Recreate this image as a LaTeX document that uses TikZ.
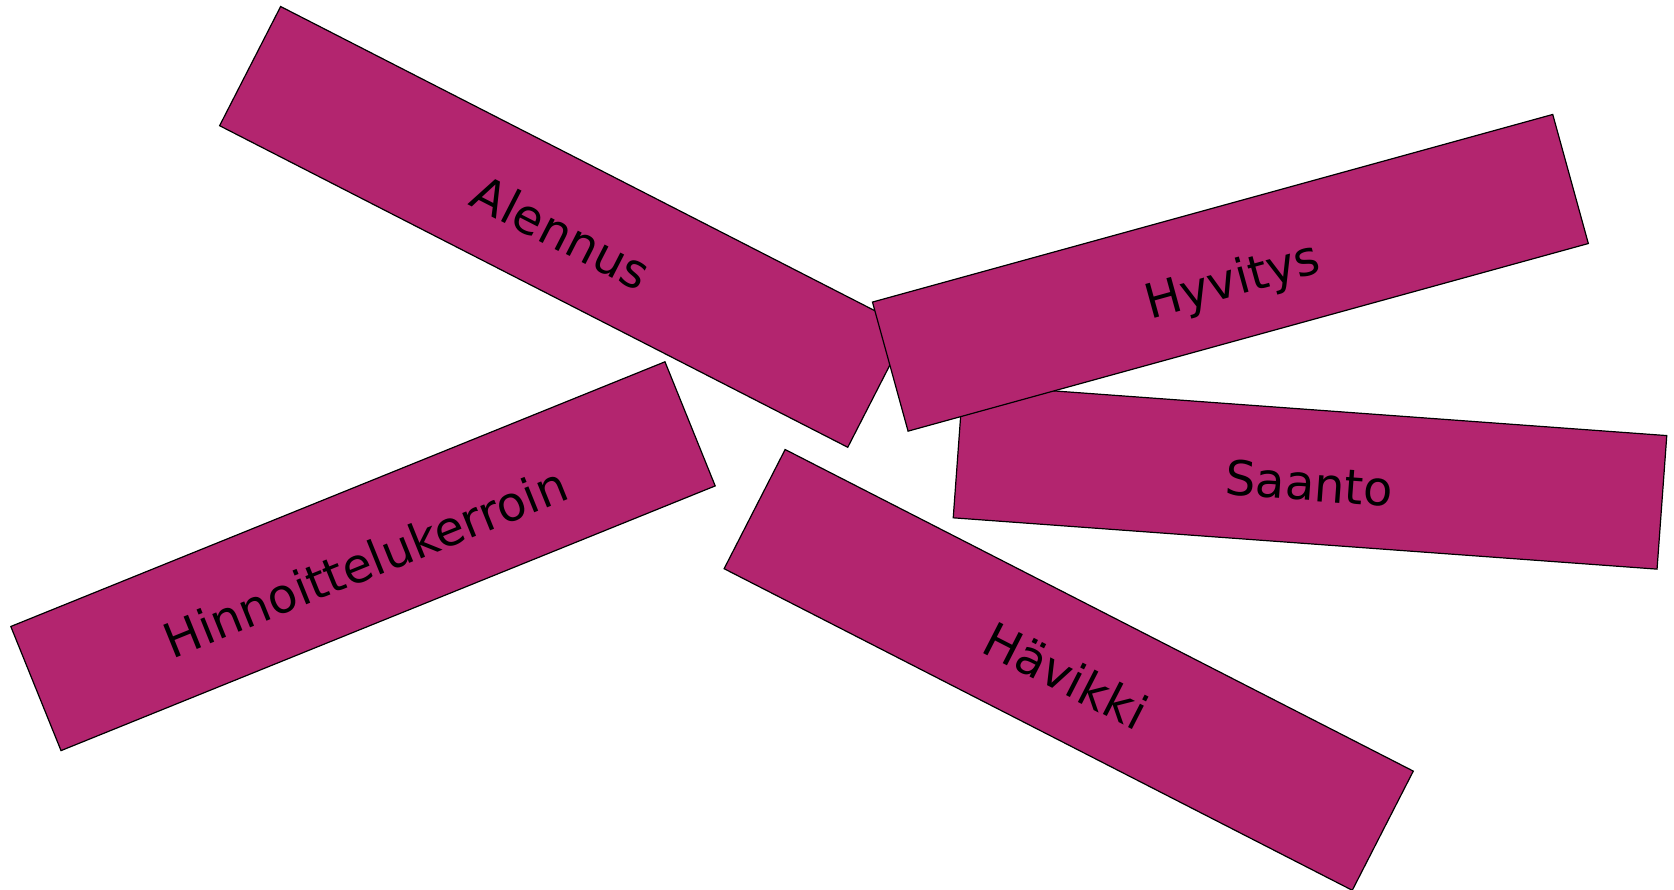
\documentclass[tikz,border=0pt]{standalone}
\usepackage{fontspec}
\setmainfont{DejaVu Sans}
\definecolor{cardfill}{HTML}{B3256F}
\begin{document}
\begin{tikzpicture}[x=1pt,y=-1pt,
  card/.style={draw=black, line width=1.2pt, fill=cardfill, shape=rectangle,
    inner sep=0pt, minimum width=705.7pt, minimum height=133.9pt,
    text height=48pt, text depth=0pt,
    font=\fontsize{48}{52}\selectfont, text=black}]
\useasboundingbox (0,0) rectangle (1674,890);
\node[card, rotate=-27.11] (alennus) at (564.2,226.9) {Alennus};
\node[card, rotate=22.03] (hinnoittelu) at (363.0,556.2) {Hinnoittelukerroin};
\node[card, rotate=-27.11] (havikki) at (1068.7,669.9) {Hävikki};
\node[card, rotate=-4.17] (saanto) at (1310.0,476.7) {Saanto};
\node[card, rotate=15.42] (hyvitys) at (1230.4,272.8) {Hyvitys};
\end{tikzpicture}
\end{document}
